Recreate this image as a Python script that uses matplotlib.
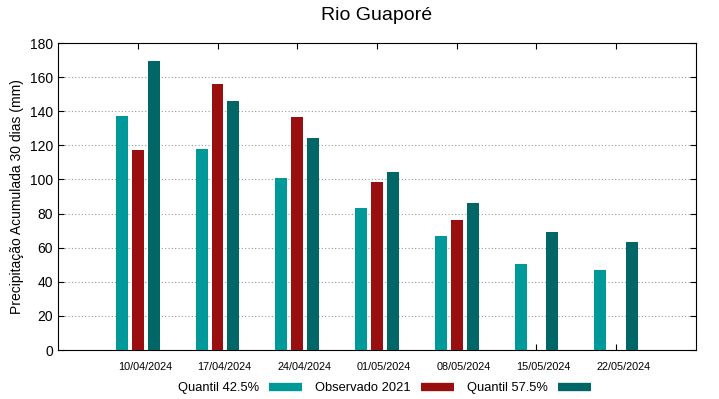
import matplotlib.pyplot as plt
import matplotlib.transforms as mtransforms
import numpy as np

plt.rcParams['font.family'] = ['Liberation Sans', 'DejaVu Sans']

datas = ['10/04/2024', '17/04/2024', '24/04/2024', '01/05/2024',
         '08/05/2024', '15/05/2024', '22/05/2024']
q425 = [137.2, 117.8, 100.8, 83.2, 66.8, 50.4, 46.9]
obs2021 = [117.2, 156.0, 136.6, 98.5, 76.2, np.nan, np.nan]
q575 = [169.4, 146.0, 124.3, 104.3, 86.2, 69.2, 63.3]

cor_q425 = '#009999'
cor_obs = '#990f0f'
cor_q575 = '#006666'

fig = plt.figure(figsize=(7.19, 3.99), dpi=100)
ax = fig.add_axes([0.0807, 0.1228, 0.8873, 0.7694])

x = np.arange(len(datas))
w = 0.15
ax.bar(x - 0.2, q425, w, color=cor_q425, zorder=3)
ax.bar(x, obs2021, w, color=cor_obs, zorder=3)
ax.bar(x + 0.2, q575, w, color=cor_q575, zorder=3)

ax.set_xlim(-1, 7)
ax.set_ylim(0, 180)
ax.set_xticks(x)
ax.set_xticklabels([])
# rotulos das datas ficam um pouco deslocados para a direita no original
desloc = mtransforms.ScaledTranslation(7 / 100, -17 / 100, fig.dpi_scale_trans)
for xi, d in zip(x, datas):
    ax.text(xi, 0, d, fontsize=7.8, ha='center', va='center',
            transform=ax.get_xaxis_transform() + desloc)
ax.set_yticks(range(0, 181, 20))
ax.tick_params(axis='y', labelsize=10, direction='in', right=True, length=4)
ax.tick_params(axis='x', direction='in', top=True, length=4)
ax.grid(axis='y', linestyle=(0, (1, 2)), color='#999999', linewidth=0.8, zorder=0)
ax.set_ylabel('Precipitação Acumulada 30 dias (mm)', fontsize=10)
ax.set_title('Rio Guaporé', fontsize=14, pad=16.5)

# legenda abaixo do grafico, texto antes da amostra
handles = [plt.Line2D([], [], color=c, linewidth=6, solid_capstyle='butt')
           for c in (cor_q425, cor_obs, cor_q575)]
ax.legend(handles, ['Quantil 42.5%', 'Observado 2021', 'Quantil 57.5%'],
          ncol=3, loc='center', bbox_to_anchor=(0.512, -0.125),
          frameon=False, markerfirst=False, fontsize=9.3,
          handlelength=2.6, columnspacing=1.0, handletextpad=0.75,
          borderpad=0, borderaxespad=0)

fig.savefig('out.png', dpi=100)
